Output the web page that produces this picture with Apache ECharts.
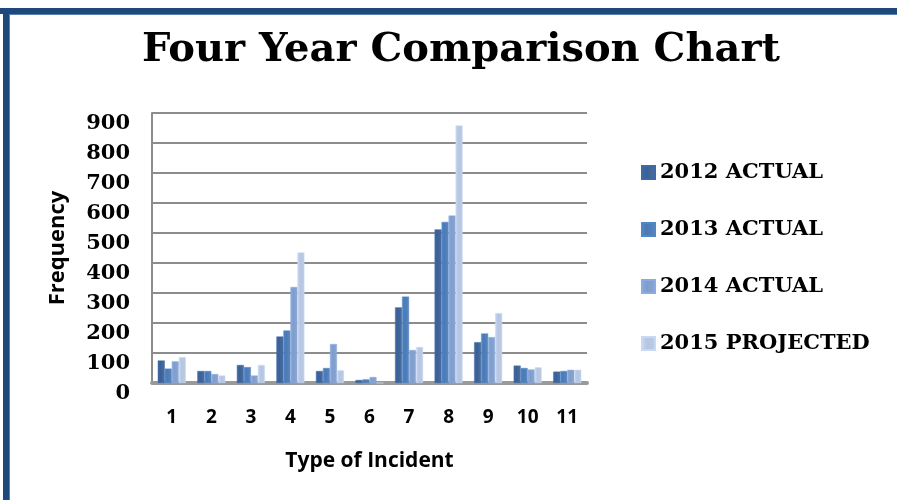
<!DOCTYPE html>
<html>
<head>
<meta charset="utf-8">
<script src="https://cdn.jsdelivr.net/npm/echarts@6/dist/echarts.min.js"></script>
<style>
  html, body { margin: 0; padding: 0; background: #fff; }
  #chart { width: 897px; height: 500px; }
</style>
</head>
<body>
<div id="chart"></div>
<script>
const categories = ["1", "2", "3", "4", "5", "6", "7", "8", "9", "10", "11"];
const seriesNames = ["2012 ACTUAL", "2013 ACTUAL", "2014 ACTUAL", "2015 PROJECTED"];
const actual2012 = [75, 40, 60, 155, 40, 10, 252, 512, 136, 58, 38];
const actual2013 = [48, 40, 53, 175, 50, 12, 288, 537, 165, 50, 40];
const actual2014 = [72, 30, 25, 320, 130, 20, 110, 558, 153, 45, 44];
const projected2015 = [86, 25, 60, 435, 42, 0, 120, 858, 233, 52, 44];
const colors = ["#3a6096", "#4a7ab6", "#7f9dcc", "#b6c6e0"];

const serif = "DejaVu Serif";
const sans = "Open Sans";

// fake the little cylinder shading with a horizontal gradient
function barFill(c) {
  return new echarts.graphic.LinearGradient(0, 0, 1, 0, [
    { offset: 0, color: echarts.color.lift(c, -0.1) },
    { offset: 0.4, color: c },
    { offset: 1, color: echarts.color.lift(c, 0.1) },
  ]);
}

const allData = [actual2012, actual2013, actual2014, projected2015];

const chart = echarts.init(document.getElementById("chart"));
const option = {
  animation: false,
  title: {
    text: "Four Year Comparison Chart",
    left: 456,
    textAlign: "center",
    top: 26,
    textStyle: { fontFamily: serif, fontWeight: "bold", fontSize: 40, color: "#000" },
  },
  graphic: [
    { type: "rect", shape: { x: 0, y: 8, width: 897, height: 6 }, style: { fill: "#1f497d" } },
    { type: "rect", shape: { x: 3, y: 8, width: 6, height: 492 }, style: { fill: "#1f497d" } },
    { type: "rect", shape: { x: 9, y: 14, width: 888, height: 1 }, style: { fill: "#5b80b0" } },
    { type: "rect", shape: { x: 9, y: 14, width: 1, height: 486 }, style: { fill: "#5b80b0" } },
  ],
  legend: {
    orient: "vertical",
    left: 636,
    top: 157,
    itemWidth: 13,
    itemHeight: 13,
    itemGap: 36,
    icon: "rect",
    textStyle: { fontFamily: serif, fontWeight: "bold", fontSize: 21, color: "#000" },
    data: seriesNames,
  },
  grid: { left: 152, right: 310, top: 113, bottom: 117 },
  xAxis: {
    type: "category",
    data: categories,
    name: "Type of Incident",
    nameLocation: "middle",
    nameGap: 68,
    nameTextStyle: { fontFamily: sans, fontWeight: "bold", fontSize: 21, color: "#000" },
    axisTick: { show: false },
    axisLine: { lineStyle: { color: "#9a9a9a", width: 4 } },
    axisLabel: { fontFamily: sans, fontWeight: "bold", fontSize: 19, color: "#000", margin: 25 },
  },
  yAxis: {
    type: "value",
    min: 0,
    max: 900,
    interval: 100,
    name: "Frequency",
    nameLocation: "middle",
    nameGap: 83,
    nameTextStyle: { fontFamily: sans, fontWeight: "bold", fontSize: 22, color: "#000" },
    axisLine: { show: true, lineStyle: { color: "#8c8c8c", width: 2 } },
    axisTick: { show: false },
    axisLabel: {
      fontFamily: serif, fontWeight: "bold", fontSize: 21, color: "#000",
      margin: 22, verticalAlign: "top",
    },
    splitLine: { lineStyle: { color: "#8c8c8c", width: 2 } },
  },
  series: allData.map((d, i) => ({
    name: seriesNames[i],
    type: "bar",
    data: d,
    barWidth: 7,
    barGap: "0%",
    itemStyle: { color: barFill(colors[i]), borderColor: echarts.color.lift(colors[i], -0.1), borderWidth: 0.5 },
  })),
  color: colors,
};
chart.setOption(option);
</script>
</body>
</html>
